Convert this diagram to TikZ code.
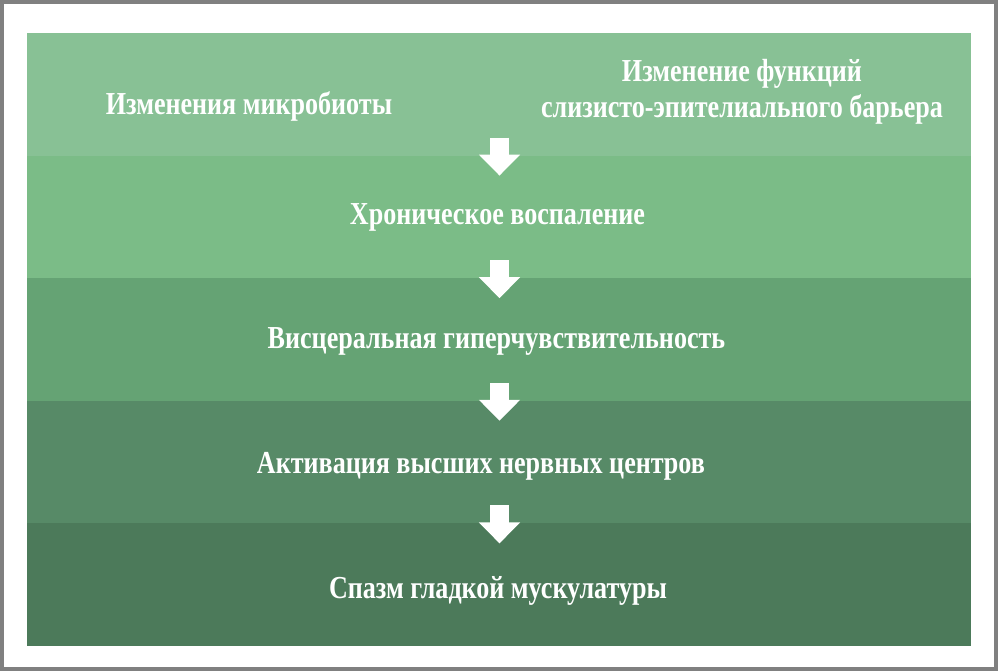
\documentclass[tikz,border=0pt]{standalone}
\usepackage{fontspec}
\setmainfont{Liberation Serif}
\usepackage{graphicx}
\usetikzlibrary{arrows.meta}
\definecolor{frameGray}{HTML}{808080}
\definecolor{bandA}{HTML}{88C195}
\definecolor{bandB}{HTML}{7BBC87}
\definecolor{bandC}{HTML}{65A374}
\definecolor{bandD}{HTML}{578A67}
\definecolor{bandE}{HTML}{4C7A5A}
\newcommand{\narrow}[1]{\scalebox{0.815}[1]{#1}}

\begin{document}
\begin{tikzpicture}[x=1pt, y=-1pt,
    band/.style={rectangle, draw=none, inner sep=0pt, minimum width=944pt, minimum height=122.6pt},
    bandtext/.style={text=white, inner sep=0pt, anchor=base, align=center, font=\fontsize{32}{36}\selectfont\bfseries},
    flow/.style={white, line width=19pt, -{Triangle[width=40pt, length=21pt]}}]
    \useasboundingbox (0,0) rectangle (998,671);
    \fill[frameGray] (0,0) rectangle (998,671);
    \fill[white] (4,4) rectangle (993.5,666.5);

    \node[band, fill=bandA] (b1) at (499,94.3) {};
    \node[band, fill=bandB] (b2) at (499,216.9) {};
    \node[band, fill=bandC] (b3) at (499,339.5) {};
    \node[band, fill=bandD] (b4) at (499,462.1) {};
    \node[band, fill=bandE] (b5) at (499,584.7) {};

    \node[bandtext] (microbiota) at (249,115) {\narrow{Изменения микробиоты}};
    \node[bandtext] (barrier) at (742,118) {\narrow{Изменение функций}\\\narrow{слизисто-эпителиального барьера}};
    \node[bandtext] (inflammation) at (497.5,225) {\narrow{Хроническое воспаление}};
    \node[bandtext] (hypersens) at (496.5,348) {\narrow{Висцеральная гиперчувствительность}};
    \node[bandtext] (centers) at (481,473) {\narrow{Активация высших нервных центров}};
    \node[bandtext] (spasm) at (498,598) {\narrow{Спазм гладкой мускулатуры}};

    \foreach \k/\yb in {1/155.6, 2/278.2, 3/400.8, 4/523.4} {
      \coordinate (up\k) at (499.5,\yb-18);
      \coordinate (dn\k) at (499.5,\yb+20);
      \draw[flow] (up\k) -- (dn\k);
    }
\end{tikzpicture}
\end{document}
